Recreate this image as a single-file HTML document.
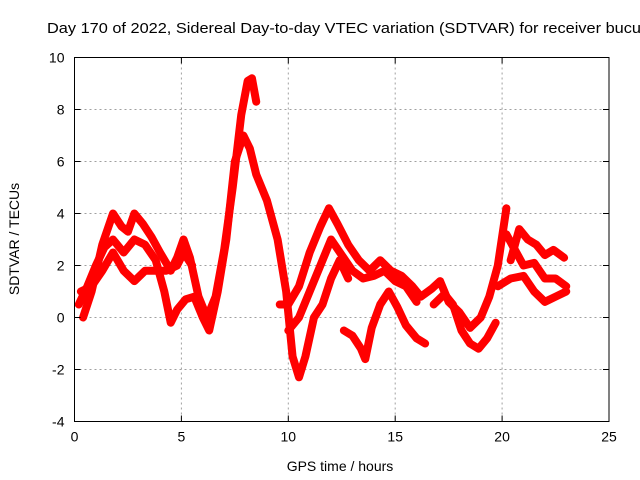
<!DOCTYPE html>
<html><head><meta charset="utf-8"><style>
body{margin:0;background:#fff;}
svg{display:block;font-family:"Liberation Sans",sans-serif;}
</style></head><body>
<svg id="chart" width="640" height="480" viewBox="0 0 640 480">
<rect width="640" height="480" fill="#fff"/>
<text x="47" y="33" font-size="15" textLength="594" lengthAdjust="spacingAndGlyphs" fill="#000">Day 170 of 2022, Sidereal Day-to-day VTEC variation (SDTVAR) for receiver bucu</text>
<g id="grid"></g><g id="series"></g><g id="axes"></g>
<text x="340" y="471" font-size="14" text-anchor="middle">GPS time / hours</text>
<text transform="translate(19,239) rotate(-90)" font-size="14" text-anchor="middle">SDTVAR / TECUs</text>
</svg>
<script>
const xTicks=[0,5,10,15,20,25];
const yTicks=[-4,-2,0,2,4,6,8,10];
const trackA_t=[0.4,0.8,1.3,1.8,2.2,2.5,2.8,3.2,3.6,4.0,4.5,4.8,5.1,5.4,5.8,6.2,6.6,7.0,7.4,7.8,8.1,8.3,8.5];
const trackA_v=[0,1,2.8,4,3.5,3.3,4,3.6,3.1,2.5,1.8,2.3,3,2.3,0.8,0,0.8,2.6,5,7.8,9.1,9.2,8.3];
const trackB_t=[0.2,0.6,1.0,1.4,1.8,2.3,2.8,3.3,3.8,4.2,4.5,4.8,5.2,5.6,6.0,6.3,6.7,7.1,7.5,7.9,8.2,8.5,9.0,9.5,9.9,10.2,10.5,10.8,11.2,11.6,12.0,12.4,12.8];
const trackB_v=[0.5,1.2,2,2.7,3,2.5,3,2.8,2.2,1,-0.2,0.3,0.7,0.8,0,-0.5,1,3,6,7,6.5,5.5,4.5,3,1,-1.5,-2.3,-1.5,0,0.5,1.5,2.2,1.5];
const trackC_t=[0.3,0.8,1.3,1.8,2.3,2.8,3.3,3.8,4.3,4.8,5.1,5.5];
const trackC_v=[1,1.2,1.8,2.5,1.8,1.4,1.8,1.8,1.8,2,2.5,2];
const trackD_t=[9.6,10.0,10.5,11.0,11.5,11.9,12.3,12.8,13.3,13.8,14.3,14.8,15.3,15.8,16.2,16.7,17.1,17.5,18.0,18.5,19.0,19.4,19.8,20.2];
const trackD_v=[0.5,0.5,1.2,2.5,3.5,4.2,3.6,2.8,2.2,1.8,2.2,1.8,1.6,1.2,0.8,1.1,1.4,0.6,0.2,-0.4,0,0.8,2,4.2];
const trackE_t=[10.0,10.5,11.0,11.5,12.0,12.5,13.0,13.5,14.0,14.5,15.0,15.5,16.0];
const trackE_v=[-0.5,0,1,2,3,2.4,1.8,1.5,1.6,1.8,1.4,1.2,0.6];
const trackF_t=[12.6,13.0,13.4,13.6,13.9,14.3,14.7,15.1,15.5,16.0,16.4];
const trackF_v=[-0.5,-0.7,-1.2,-1.6,-0.4,0.5,1,0.4,-0.3,-0.8,-1];
const trackG_t=[16.8,17.3,17.7,18.1,18.5,18.9,19.3,19.7];
const trackG_v=[0.5,0.9,0.5,-0.5,-1,-1.2,-0.8,-0.2];
const trackH_t=[20.2,20.6,21.0,21.5,22.0,22.5,23.0];
const trackH_v=[3.2,2.6,2.0,2.1,1.5,1.5,1.2];
const trackI_t=[20.4,20.8,21.2,21.6,22.0,22.4,22.9];
const trackI_v=[2.2,3.4,3.0,2.8,2.4,2.6,2.3];
const trackJ_t=[19.8,20.4,21.0,21.5,22.0,22.5,23.0];
const trackJ_v=[1.2,1.5,1.6,1.0,0.6,0.8,1.0];
const tracks=[[trackA_t,trackA_v],[trackB_t,trackB_v],[trackC_t,trackC_v],[trackD_t,trackD_v],[trackE_t,trackE_v],[trackF_t,trackF_v],[trackG_t,trackG_v],[trackH_t,trackH_v],[trackI_t,trackI_v],[trackJ_t,trackJ_v]];
const L=74.5,R=609,T=57.5,B=421.5;
const xs=t=>L+(t-0)/(25-0)*(R-L);
const ys=v=>B-(v+4)/14*(B-T);
const NS='http://www.w3.org/2000/svg';
function mk(tag,parent,attrs){const e=document.createElementNS(NS,tag);for(const k in attrs)e.setAttribute(k,attrs[k]);parent.appendChild(e);return e;}
const grid=document.getElementById('grid'),axes=document.getElementById('axes'),ser=document.getElementById('series');
xTicks.forEach(t=>{
  const x=xs(t);
  if(t>0&&t<25){const g=mk('line',grid,{x1:x,x2:x,y1:T,y2:B,stroke:'#a0a0a0','stroke-dasharray':'2,3','stroke-width':1});
  
  }
  mk('line',axes,{x1:x,x2:x,y1:B,y2:B-6,stroke:'#000'});
  mk('line',axes,{x1:x,x2:x,y1:T,y2:T+6,stroke:'#000'});
  const lb=mk('text',axes,{x:x,y:B+20,'font-size':14,'text-anchor':'middle'});
  lb.textContent=t;
  
  
});
yTicks.forEach(v=>{
  const y=ys(v);
  if(v>-4&&v<10){const g=mk('line',grid,{x1:L,x2:R,y1:y,y2:y,stroke:'#a0a0a0','stroke-dasharray':'2,3','stroke-width':1});
  
  }
  mk('line',axes,{x1:L,x2:L+6,y1:y,y2:y,stroke:'#000'});
  mk('line',axes,{x1:R,x2:R-6,y1:y,y2:y,stroke:'#000'});
  const lb=mk('text',axes,{x:L-10,y:y+5,'font-size':14,'text-anchor':'end'});
  lb.textContent=v;
  
  
});
const fr=mk('rect',axes,{x:L,y:T,width:R-L,height:B-T,fill:'none',stroke:'#000','stroke-width':1});


tracks.forEach(([ts,vs])=>{
  const pts=ts.map((t,i)=>xs(t)+','+ys(vs[i])).join(' ');
  const p=mk('polyline',ser,{points:pts,fill:'none',stroke:'#ff0000','stroke-width':8,'stroke-linejoin':'round','stroke-linecap':'round'});
  
  
});
</script>
</body></html>
